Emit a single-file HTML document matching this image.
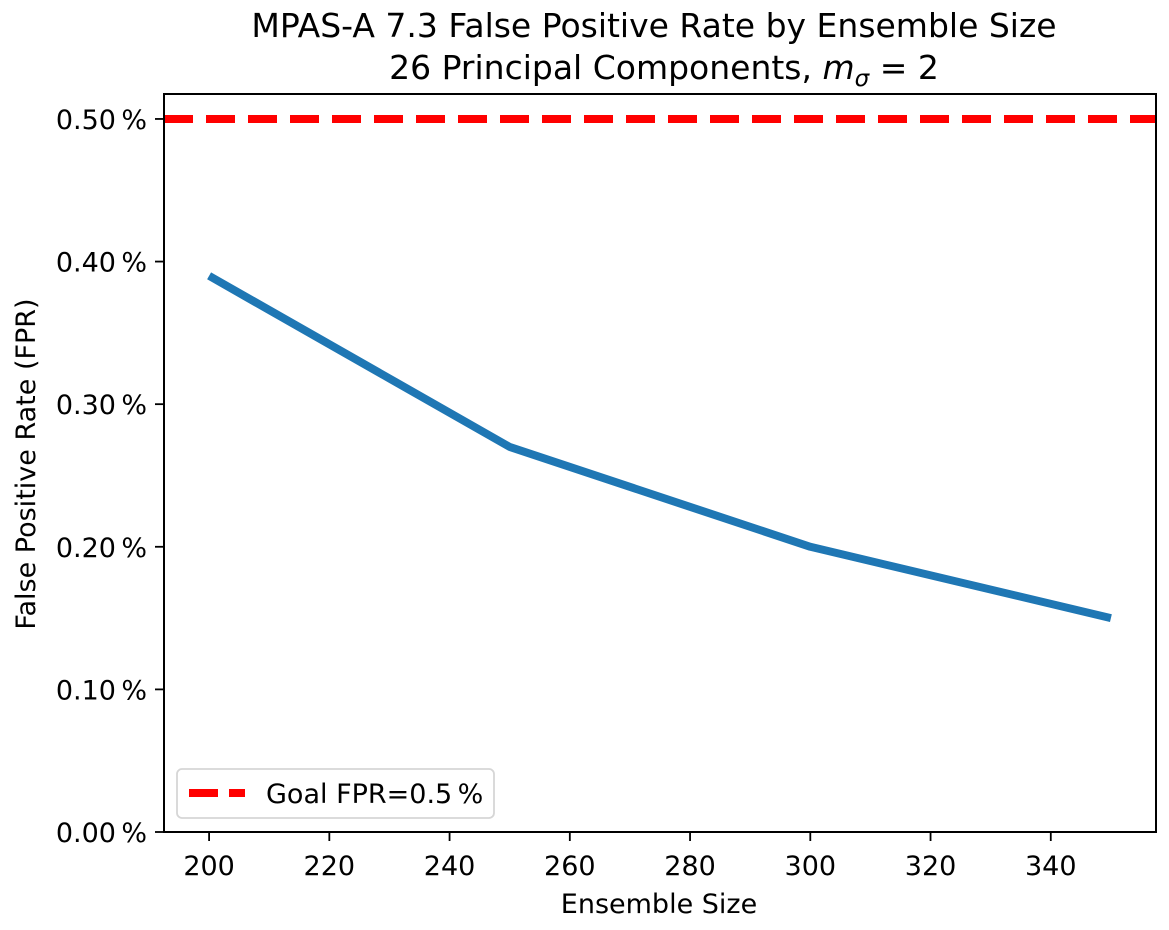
<!DOCTYPE html>
<html><head><meta charset="utf-8"><style>
body{margin:0;background:#fff;font-family:"Liberation Sans","DejaVu Sans",sans-serif}
svg text{font-family:"DejaVu Sans","Liberation Sans",sans-serif;fill:#000}
</style></head><body>
<svg width="1169" height="925" xmlns="http://www.w3.org/2000/svg">
<g id="g"></g>
</svg>
<script>
const categories=[200,250,300,350];
const fprValues=[0.39,0.27,0.20,0.15];
const goalValue=0.5;
const xTicks=[200,220,240,260,280,300,320,340];
const yTicks=[0,0.1,0.2,0.3,0.4,0.5];
const L=164,R=1156,T=94,B=832,x0=192.5,x1=357.5,y0=0,y1=0.5175;
const X=v=>L+(v-x0)/(x1-x0)*(R-L);
const Y=v=>B-(v-y0)/(y1-y0)*(B-T);
const ns="http://www.w3.org/2000/svg",g=document.getElementById('g');
function mk(t,a,txt){const e=document.createElementNS(ns,t);for(const k in a)e.setAttribute(k,a[k]);if(txt!=null)e.textContent=txt;g.appendChild(e);return e;}
let e;
e=mk('text',{x:654,y:37,'font-size':33,'text-anchor':'middle'},'MPAS-A 7.3 False Positive Rate by Ensemble Size');


e=mk('text',{x:664,y:79,'font-size':33,'text-anchor':'middle'},'');


e.innerHTML='26 Principal Components, <tspan font-style="italic">m</tspan><tspan font-style="italic" font-size="23" dy="7">σ</tspan><tspan dy="-7"> = 2</tspan>';
xTicks.forEach(v=>{
 e=mk('line',{x1:X(v),x2:X(v),y1:B,y2:B+9,stroke:'#000','stroke-width':1.8});
 
 
 e=mk('text',{x:X(v),y:B+43,'font-size':27,'text-anchor':'middle'},String(v));
 
 
});
yTicks.forEach(v=>{
 e=mk('line',{x1:L-9,x2:L,y1:Y(v),y2:Y(v),stroke:'#000','stroke-width':1.8});
 
 
 e=mk('text',{x:L-17,y:Y(v)+10,'font-size':27,'text-anchor':'end'},v.toFixed(2)+'\u2009%');
 
 
});
e=mk('text',{x:659,y:913,'font-size':27,'text-anchor':'middle'},'Ensemble Size');


e=mk('text',{x:0,y:0,'font-size':27,'text-anchor':'middle',transform:'translate(35,464) rotate(-90)'},'False Positive Rate (FPR)');


e=mk('line',{x1:L,x2:R,y1:Y(goalValue),y2:Y(goalValue),stroke:'#ff0000','stroke-width':8,'stroke-dasharray':'29 13'});


e=mk('polyline',{points:categories.map((c,i)=>X(c)+','+Y(fprValues[i])).join(' '),fill:'none',stroke:'#1f77b4','stroke-width':8,'stroke-linejoin':'round'});


e=mk('rect',{x:L,y:T,width:R-L,height:B-T,fill:'none',stroke:'#000','stroke-width':2});


e=mk('rect',{x:177,y:769,width:317,height:49,rx:5,fill:'#fff',stroke:'#d6d6d6','stroke-width':1.8});


e=mk('line',{x1:189,x2:245,y1:793,y2:793,stroke:'#ff0000','stroke-width':8,'stroke-dasharray':'29 11'});


e=mk('text',{x:266,y:803,'font-size':27},'Goal FPR=0.5\u2009%');


</script>
</body></html>
